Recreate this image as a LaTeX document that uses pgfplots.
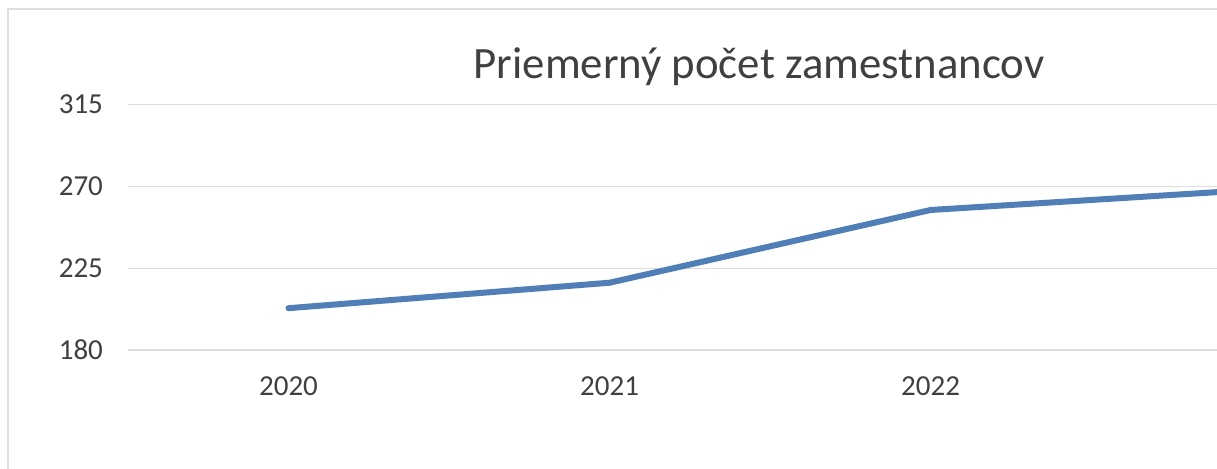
\documentclass[border=0pt]{standalone}
\usepackage{fontspec}
\setmainfont{Carlito}
\usepackage{pgfplots}
\pgfplotsset{compat=1.18}
\definecolor{linec}{RGB}{80,126,182}
\definecolor{gridc}{RGB}{222,222,222}
\definecolor{txt}{RGB}{64,64,64}
\begin{document}
\begin{tikzpicture}
\useasboundingbox (0pt,0pt) rectangle (608.5pt,234pt);
\clip (0pt,0pt) rectangle (608.5pt,234pt);
\fill[white] (0pt,0pt) rectangle (608.5pt,234pt);
\draw[gridc, line width=0.8pt] (4pt,-5pt) -- (4pt,229.5pt) -- (650pt,229.5pt);
\begin{axis}[
  at={(64pt,59pt)}, anchor=south west, scale only axis,
  width=544.5pt, height=122.75pt,
  xmin=-0.5, xmax=2.892, ymin=180, ymax=315,
  ytick={180,225,270,315},
  xtick={0,1,2,3}, xticklabels={2020,2021,2022,2023},
  axis line style={draw=none}, tick style={draw=none},
  ymajorgrids, grid style={gridc, line width=0.6pt},
  ticklabel style={font=\fontsize{14.5}{17}\selectfont, text=txt},
  /pgf/number format/assume math mode=true,
  yticklabel style={xshift=-9pt},
  xticklabel style={yshift=-10pt},
]
\addplot[linec, line width=3pt, line join=round, line cap=round] coordinates {(0,203) (1,217) (2,257) (3,268)};
\end{axis}
\node[anchor=base, font=\fontsize{22.4}{27}\selectfont, text=txt, inner sep=0pt] at (379.5pt,195pt) {Priemerný počet zamestnancov};
\end{tikzpicture}
\end{document}
